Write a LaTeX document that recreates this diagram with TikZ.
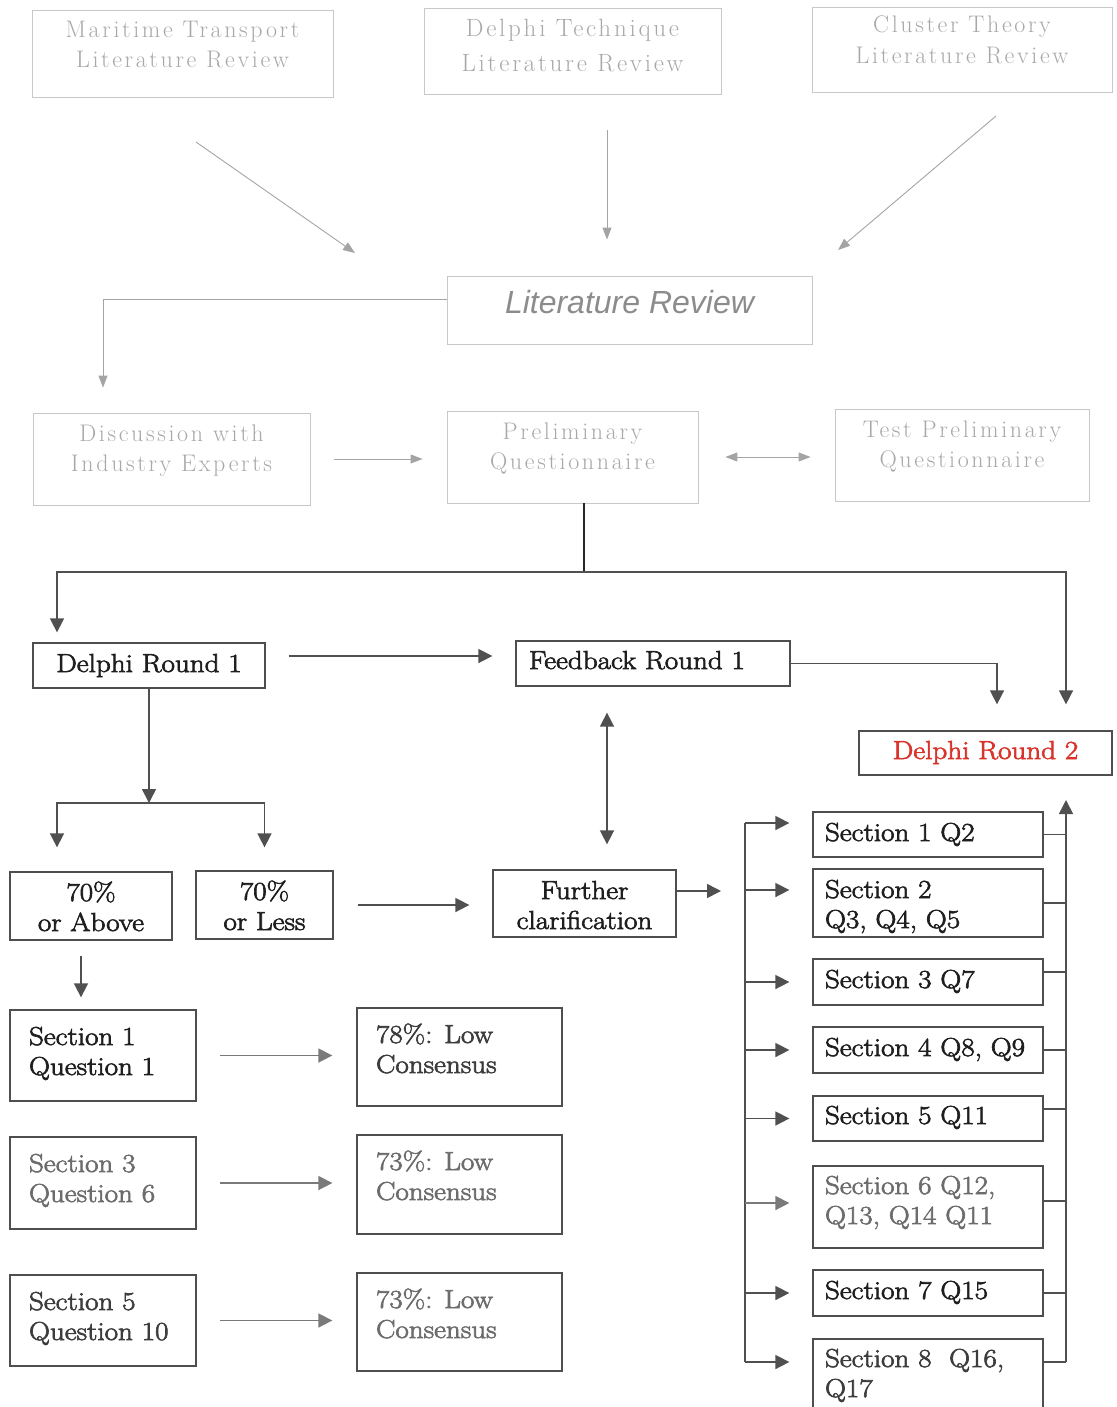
\documentclass[tikz,border=0pt]{standalone}
\usepackage{fontspec}
\setmainfont{Latin Modern Roman}
\newfontfamily\schoolfont[FakeBold=2.5,FakeStretch=1.12]{Latin Modern Roman}
\newfontfamily\faintfont[LetterSpace=11]{Latin Modern Roman}
\newfontfamily\headfont{Liberation Sans}
\usetikzlibrary{arrows.meta}

\definecolor{faintline}{HTML}{C8C8C8}
\definecolor{fainttext}{HTML}{A8A8A8}
\definecolor{faintarrow}{HTML}{A4A4A4}
\definecolor{headtext}{HTML}{8C8C8C}
\definecolor{boxline}{HTML}{4E4E4E}
\definecolor{inkdark}{HTML}{1E1E1E}
\definecolor{inkmid}{HTML}{3C3C3C}
\definecolor{inkgrey}{HTML}{6C6C6C}
\definecolor{arrowline}{HTML}{505050}
\definecolor{arrowsoft}{HTML}{7A7A7A}
\definecolor{roundred}{HTML}{D9342B}

% box contents: width, height, gap above first line, text (centred)
\newcommand{\centredtext}[4]{\parbox[c][#2pt][t]{#1pt}{\centering\vspace*{#3pt}\strut#4\par}}
% box contents: width, height, left indent, gap above first line, text (flush left)
\newcommand{\leftedtext}[5]{\parbox[c][#2pt][t]{#1pt}{\raggedright\leftskip=#3pt\relax\vspace*{#4pt}\strut#5\par}}

\tikzset{
  faintbox/.style={draw=faintline, line width=0.8pt, inner sep=0pt, text=fainttext,
    font=\faintfont\fontsize{24}{30}\selectfont},
  cell/.style={draw=boxline, line width=1.3pt, inner sep=0pt, text=inkdark,
    font=\schoolfont\fontsize{26}{30}\selectfont},
  faintarr/.style={draw=faintarrow, line width=0.9pt, -{Triangle[length=12pt,width=9pt]}},
  arr/.style={draw=arrowline, line width=1.6pt, -{Triangle[length=14pt,width=14pt]}},
  softarr/.style={arr, draw=arrowsoft},
  twoarr/.style={arr, {Triangle[length=14pt,width=14pt]}-{Triangle[length=14pt,width=14pt]}},
  wire/.style={draw=arrowline, line width=1.6pt},
}

\begin{document}
\begin{tikzpicture}[x=1pt,y=-1pt]
\useasboundingbox (0,0) rectangle (1116,1407);

% ---- literature sources ----
\node[faintbox] (mt) at (182.5,53.5) {\centredtext{301}{87}{7}{Maritime Transport\\Literature Review}};
\node[faintbox, font=\faintfont\fontsize{25}{35}\selectfont] (dt) at (572.5,51) {\centredtext{297}{86}{4.5}{Delphi Technique\\Literature Review}};
\node[faintbox, font=\faintfont\fontsize{24}{31}\selectfont] (ct) at (962,49.5) {\centredtext{300}{85}{4.3}{Cluster Theory\\Literature Review}};

\node[draw=faintline, line width=0.8pt, inner sep=0pt, text=headtext,
      font=\headfont\itshape\fontsize{32}{38}\selectfont] (lr) at (629.5,310)
      {\centredtext{365}{68}{10.7}{Literature Review}};

\coordinate (mtA) at (196,142);
\coordinate (mtB) at (355,253);
\coordinate (ctA) at (996,116);
\coordinate (ctB) at (838,250);
\draw[faintarr] (mtA) -- (mtB);
\draw[faintarr, shorten <=36pt, shorten >=36pt] ([xshift=34.5pt]dt.south) -- ([xshift=34.5pt]dt.south |- lr.north);
\draw[faintarr] (ctA) -- (ctB);

% ---- preparation ----
\node[faintbox] (de) at (171.5,459) {\centredtext{277}{92}{7.4}{Discussion with\\Industry Experts}};
\node[faintbox] (pq) at (572.5,457) {\centredtext{251}{92}{7.4}{Preliminary\\Questionnaire}};
\node[faintbox] (tq) at (962,455) {\centredtext{254}{92}{7.4}{Test Preliminary\\Questionnaire}};

\draw[faintarr] ([yshift=11pt]lr.west) -| ([xshift=-68.5pt,yshift=25pt]de.north);
\draw[faintarr, shorten <=24pt, shorten >=24pt] (de.east) -- (de.east -| pq.west);
\draw[faintarr, {Triangle[length=12pt,width=9pt]}-{Triangle[length=12pt,width=9pt]}, shorten <=27pt, shorten >=24pt]
  (pq.east) -- (pq.east -| tq.west);

% ---- first round ----
\node[cell] (d1) at (149,665.5) {\centredtext{232}{45}{8}{Delphi Round 1}};
\node[cell] (fb) at (653,663.5) {\leftedtext{274}{45}{13}{7}{Feedback Round 1}};
\node[cell, text=roundred] (d2) at (985.5,753) {\centredtext{253}{44}{7}{Delphi Round 2}};

\coordinate (hub) at (584,572);
\draw[draw=black!85, line width=1.5pt] ([xshift=11.5pt]pq.south) -- (hub);
\draw[arr] (hub) -| ([xshift=-92pt,yshift=10pt]d1.north);
\draw[arr] (hub) -| ([xshift=80.5pt,yshift=26pt]d2.north);

\draw[arr, shorten <=23pt, shorten >=23pt] ([yshift=9.5pt]d1.east) -- ([yshift=9.5pt]d1.east -| fb.west);
\draw[arr] (fb.east) -| ([xshift=11.5pt,yshift=26pt]d2.north);

% ---- consensus split ----
\node[cell] (a70) at (91,906) {\centredtext{162}{68}{8}{70\%\\or Above}};
\node[cell] (l70) at (264.5,905) {\centredtext{137}{68}{8}{70\%\\or Less}};
\node[cell] (fc) at (584.5,903.5) {\centredtext{183}{67}{8}{Further\\clarification}};

\coordinate (split) at (149,803);
\draw[arr] (d1.south) -- (split);
\draw[arr] (split) -| ([xshift=-34pt,yshift=24pt]a70.north);
\draw[arr] (split) -| ([yshift=23pt]l70.north);
\draw[arr, shorten <=24pt, shorten >=23pt] (l70.east) -- (l70.east -| fc.west);
\draw[twoarr, shorten <=26pt, shorten >=25pt] ([xshift=-46pt]fb.south) -- ([xshift=-46pt]fb.south |- fc.north);

% ---- low consensus items ----
\node[cell] (q1) at (103,1055.5) {\leftedtext{186}{91}{19}{14}{Section 1\\Question 1}};
\node[cell, text=inkgrey] (q6) at (103,1183) {\leftedtext{186}{92}{19}{14}{Section 3\\Question 6}};
\node[cell, text=inkmid] (q10) at (103,1320.5) {\leftedtext{186}{91}{19}{14}{Section 5\\Question 10}};
\node[cell, text=inkmid] (c1) at (459.5,1057) {\leftedtext{205}{98}{19}{14}{78\%: Low\\Consensus}};
\node[cell, text=inkgrey] (c2) at (459.5,1184.5) {\leftedtext{205}{99}{19}{14}{73\%: Low\\Consensus}};
\node[cell, text=inkgrey] (c3) at (459.5,1322) {\leftedtext{205}{98}{19}{14}{73\%: Low\\Consensus}};

\draw[arr, shorten <=15pt, shorten >=12pt] ([xshift=-10pt]a70.south) -- ([xshift=-10pt]a70.south |- q1.north);
\draw[softarr, shorten <=23pt, shorten >=24pt] (q1.east) -- (q1.east -| c1.west);
\draw[softarr, shorten <=23pt, shorten >=24pt] (q6.east) -- (q6.east -| c2.west);
\draw[softarr, shorten <=23pt, shorten >=24pt] (q10.east) -- (q10.east -| c3.west);

% ---- second round sections ----
\node[cell] (s1) at (928,834.5) {\leftedtext{230}{45}{12}{8}{Section 1 Q2}};
\node[cell] (s2) at (928,903) {\leftedtext{230}{68}{12}{8}{Section 2\\Q3, Q4, Q5}};
\node[cell] (s3) at (928,982) {\leftedtext{230}{46}{12}{8}{Section 3 Q7}};
\node[cell] (s4) at (928,1050) {\leftedtext{230}{46}{12}{8}{Section 4 Q8, Q9}};
\node[cell] (s5) at (928,1118.5) {\leftedtext{230}{45}{12}{7}{Section 5 Q11}};
\node[cell, text=inkgrey] (s6) at (928,1207) {\leftedtext{230}{82}{12}{7}{Section 6 Q12,\\Q13, Q14 Q11}};
\node[cell] (s7) at (928,1293) {\leftedtext{230}{46}{12}{8}{Section 7 Q15}};
\node[cell, text=inkmid] (s8) at (928,1379) {\leftedtext{230}{80}{12}{7}{Section 8\ \ Q16,\\Q17}};

% fan-out bracket on the left
\coordinate (lbtop) at (745,823);
\coordinate (lbbot) at (745,1362);
\draw[arr, shorten >=24pt] ([yshift=12.5pt]fc.east) -- ([yshift=12.5pt]fc.east -| lbtop);
\draw[wire] (lbtop) -- (lbbot);
\draw[arr, shorten >=23pt] ([yshift=11.5pt]s1.west -| lbtop) -- ([yshift=11.5pt]s1.west);
\draw[arr, shorten >=23pt] ([yshift=13pt]s2.west -| lbtop) -- ([yshift=13pt]s2.west);
\draw[arr, shorten >=23pt] (s3.west -| lbtop) -- (s3.west);
\draw[arr, shorten >=23pt] (s4.west -| lbtop) -- (s4.west);
\draw[arr, shorten >=23pt] (s5.west -| lbtop) -- (s5.west);
\draw[softarr, shorten >=23pt] ([yshift=4pt]s6.west -| lbtop) -- ([yshift=4pt]s6.west);
\draw[arr, shorten >=23pt] (s7.west -| lbtop) -- (s7.west);
\draw[arr, shorten >=23pt] ([yshift=17pt]s8.west -| lbtop) -- ([yshift=17pt]s8.west);

% gathering bracket on the right, back up to round 2
\coordinate (rbtop) at (1066,800);
\coordinate (rbbot) at (1066,1362);
\draw[arr] (rbbot) -- (rbtop);
\draw[wire] (s1.east) -- (s1.east -| rbbot);
\draw[wire] (s2.east) -- (s2.east -| rbbot);
\draw[wire] ([yshift=10pt]s3.east) -- ([yshift=10pt]s3.east -| rbbot);
\draw[wire] (s4.east) -- (s4.east -| rbbot);
\draw[wire] ([yshift=9.5pt]s5.east) -- ([yshift=9.5pt]s5.east -| rbbot);
\draw[wire] ([yshift=6pt]s6.east) -- ([yshift=6pt]s6.east -| rbbot);
\draw[wire] (s7.east) -- (s7.east -| rbbot);
\draw[wire] ([yshift=17pt]s8.east) -- ([yshift=17pt]s8.east -| rbbot);
\end{tikzpicture}
\end{document}
